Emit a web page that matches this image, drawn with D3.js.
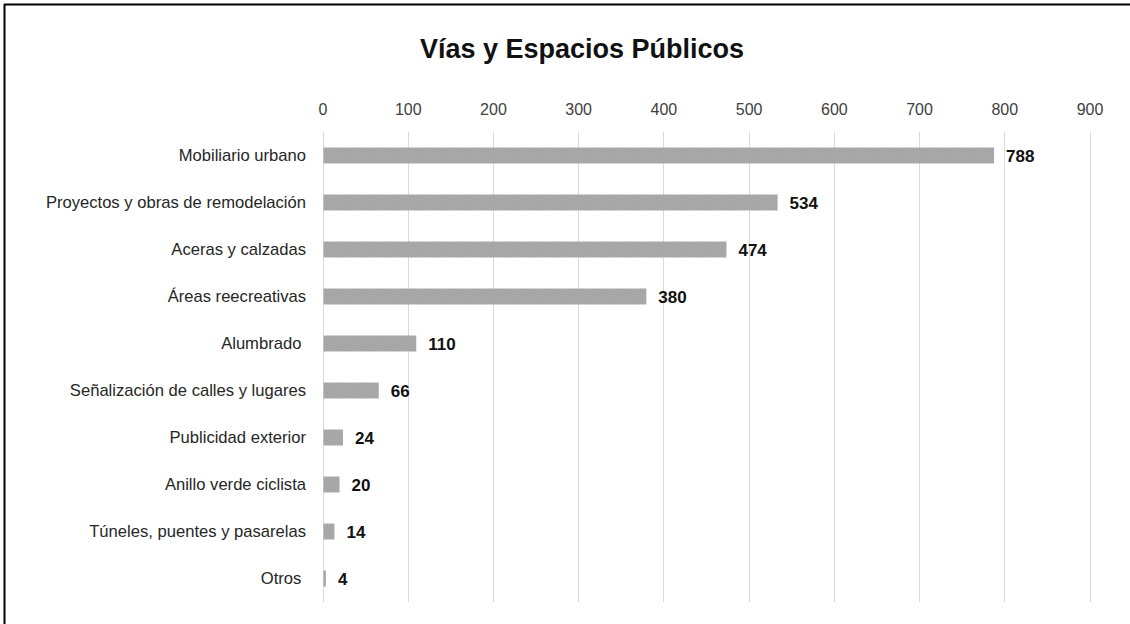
<!DOCTYPE html>
<html>
<head>
<meta charset="utf-8">
<script src="https://cdn.jsdelivr.net/npm/d3@7/dist/d3.min.js"></script>
<style>
  html, body { margin: 0; padding: 0; background: #fff; }
  svg { display: block; }
  text { font-family: "Liberation Sans", Arial, sans-serif; white-space: pre; }
</style>
</head>
<body>
<svg id="chart" width="1130" height="624"></svg>
<script>
// Vías y Espacios Públicos — number of items per category
const categories = [
  "Mobiliario urbano",
  "Proyectos y obras de remodelación",
  "Aceras y calzadas",
  "Áreas reecreativas",
  "Alumbrado ",
  "Señalización de calles y lugares",
  "Publicidad exterior",
  "Anillo verde ciclista",
  "Túneles, puentes y pasarelas",
  "Otros "
];
const values = [788, 534, 474, 380, 110, 66, 24, 20, 14, 4];
const tickValues = [0, 100, 200, 300, 400, 500, 600, 700, 800, 900];
const title = "Vías y Espacios Públicos";

const svg = d3.select("#chart");
const W = 1130, H = 624;
const margin = { top: 132, left: 322.5, right: W - 1089.5, bottom: H - 602 };

// frame (top and left edges visible)
svg.append("line").attr("x1", 4).attr("y1", 4.5).attr("x2", W).attr("y2", 4.5)
  .attr("stroke", "#000").attr("stroke-width", 2);
svg.append("line").attr("x1", 4.5).attr("y1", 4).attr("x2", 4.5).attr("y2", H)
  .attr("stroke", "#000").attr("stroke-width", 2);

// fine texture for the bars
const defs = svg.append("defs");
const pat = defs.append("pattern").attr("id", "barTex")
  .attr("patternUnits", "userSpaceOnUse").attr("width", 3).attr("height", 3);
pat.append("rect").attr("width", 3).attr("height", 3).attr("fill", "#ababab");
pat.append("path").attr("d", "M0,3 L3,0").attr("stroke", "#9c9c9c").attr("stroke-width", 0.8);

const x = d3.scaleLinear().domain([0, 900]).range([margin.left, W - margin.right]);
const y = d3.scaleBand().domain(categories)
  .range([margin.top, H - margin.bottom]).paddingInner(0.66).paddingOuter(0.33);

// title
svg.append("text").attr("x", 582).attr("y", 58)
  .attr("text-anchor", "middle").attr("font-size", 27).attr("font-weight", "bold")
  .attr("fill", "#111").text(title);

// vertical gridlines
svg.append("g").selectAll("line").data(tickValues).join("line")
  .attr("x1", d => Math.round(x(d)) + 0.5).attr("x2", d => Math.round(x(d)) + 0.5)
  .attr("y1", margin.top).attr("y2", H - margin.bottom)
  .attr("stroke", "#d9d9d9").attr("stroke-width", 1);

// top axis labels
const axis = d3.axisTop(x).tickValues(tickValues).tickSize(0).tickPadding(0);
const gx = svg.append("g").attr("transform", `translate(0,${margin.top - 17})`).call(axis);
gx.select(".domain").remove();
gx.selectAll("text").attr("font-size", 16).attr("fill", "#404040")
  .attr("font-family", "'Liberation Sans', Arial, sans-serif");

// category labels
const gy = svg.append("g").attr("transform", `translate(${margin.left - 16.5},0)`)
  .call(d3.axisLeft(y).tickSize(0).tickPadding(0));
gy.select(".domain").remove();
gy.selectAll("text").attr("font-size", 16.6).attr("fill", "#262626")
  .attr("font-family", "'Liberation Sans', Arial, sans-serif");

// bars
svg.append("g").selectAll("rect").data(values).join("rect")
  .attr("x", x(0) + 1)
  .attr("y", (d, i) => y(categories[i]))
  .attr("width", d => Math.max(0, x(d) - x(0) - 1))
  .attr("height", y.bandwidth())
  .attr("fill", "url(#barTex)");

// value labels
svg.append("g").selectAll("text").data(values).join("text")
  .attr("x", d => x(d) + 12)
  .attr("y", (d, i) => y(categories[i]) + y.bandwidth() / 2)
  .attr("dy", "0.38em")
  .attr("font-size", 17).attr("font-weight", "bold").attr("fill", "#111")
  .text(d => d);
</script>
</body>
</html>
